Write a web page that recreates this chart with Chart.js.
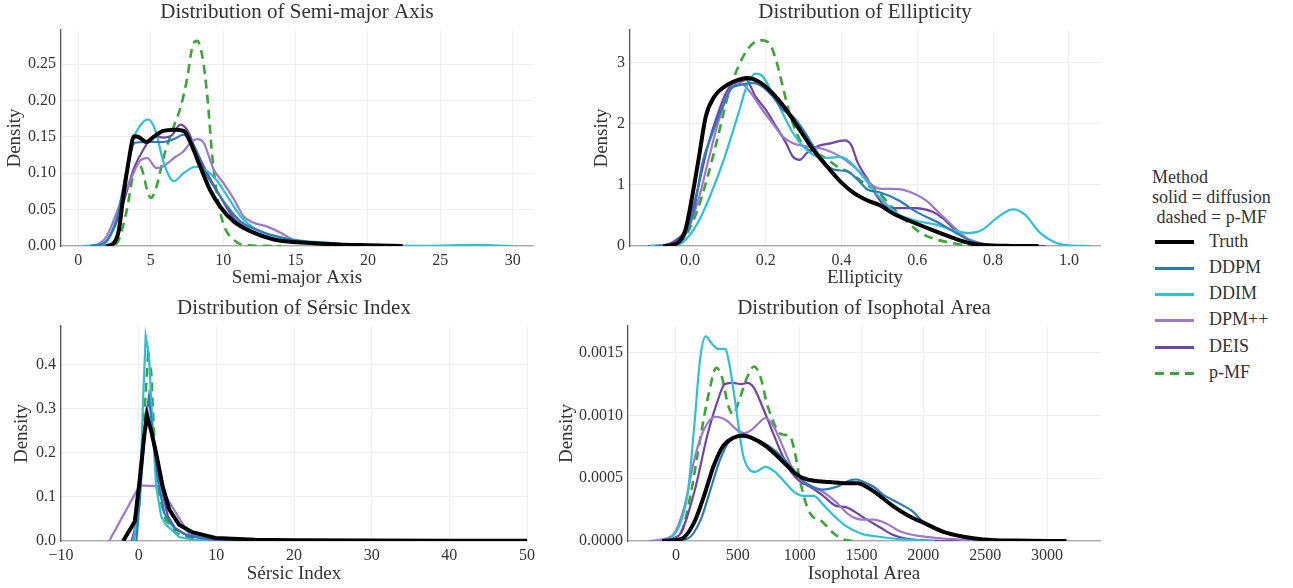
<!DOCTYPE html>
<html>
<head>
<meta charset="utf-8">
<script src="https://cdn.jsdelivr.net/npm/chart.js@4.4.1/dist/chart.umd.min.js"></script>
<style>
  body { margin: 0; background: #fff; width: 1293px; height: 588px; position: relative; overflow: hidden;
         font-family: 'Liberation Serif', 'DejaVu Serif', serif; color: #333; }
  canvas { position: absolute; }
  .leg { position: absolute; font-family: 'Liberation Serif', 'DejaVu Serif', serif; font-size: 18px;
         line-height: 20px; white-space: pre; color: #333; }
  .sw { position: absolute; width: 39px; }
</style>
</head>
<body>
<canvas id="semi"></canvas>
<canvas id="ellip"></canvas>
<canvas id="sersic"></canvas>
<canvas id="area"></canvas>
<div id="legend"></div>
<script>
const methods = ["Truth", "DDPM", "DDIM", "DPM++", "DEIS", "p-MF"];
const colors = ["#000000", "#2b7bba", "#2ec0d6", "#9d78cc", "#6f45a6", "#3aa63a"];
const widths = [4, 2.2, 2.2, 2.2, 2.2, 2.6];
const dashes = [[], [], [], [], [], [9, 6]];

// Semi-major axis densities, [x, density]
const semiTruth = [[1.9,0],[2.4,0.003],[2.8,0.022],[3.1,0.068],[3.45,0.114],[3.85,0.151],[4.15,0.150],[4.7,0.143],[5.2,0.150],[5.8,0.158],[6.7,0.160],[7.3,0.158],[7.75,0.142],[8.4,0.110],[9.1,0.077],[9.8,0.054],[10.7,0.034],[11.9,0.020],[13.5,0.009],[16,0.004],[18,0.002],[20,0.001],[22.4,0]];
const semiDDPM = [[0.8,0],[1.5,0.002],[2.0,0.008],[2.7,0.04],[3.3,0.1],[3.9,0.142],[4.7,0.143],[5.9,0.143],[6.6,0.147],[7.25,0.153],[8.0,0.137],[8.65,0.105],[9.35,0.082],[10.3,0.054],[11.2,0.034],[12.6,0.020],[14.9,0.008],[17,0.003],[20,0.001],[22,0]];
const semiDDIM = [[0.3,0],[1.2,0.001],[1.95,0.006],[2.65,0.04],[3.35,0.105],[3.8,0.147],[4.25,0.165],[4.8,0.174],[5.3,0.160],[5.9,0.114],[6.6,0.089],[7.25,0.100],[8.1,0.109],[8.9,0.103],[9.6,0.089],[10.3,0.068],[11.2,0.041],[12.35,0.022],[13.7,0.013],[16,0.006],[17,0.005],[18.5,0.002],[21,0.0005],[24,0.0003],[27.5,0.0015],[30,0]];
const semiDPMpp = [[0.8,0],[1.5,0.004],[1.95,0.013],[2.9,0.059],[3.6,0.091],[4.25,0.117],[4.75,0.121],[5.4,0.107],[5.9,0.110],[6.6,0.121],[7.25,0.130],[7.75,0.142],[8.2,0.147],[8.65,0.142],[9.35,0.105],[10.0,0.087],[10.75,0.064],[11.4,0.041],[12.1,0.032],[13.0,0.027],[14.0,0.018],[14.9,0.008],[17,0.004],[20,0]];
const semiDEIS = [[1.0,0],[1.8,0.004],[2.4,0.022],[3.1,0.059],[3.8,0.105],[4.5,0.133],[5.2,0.151],[5.9,0.149],[6.45,0.152],[7.05,0.167],[7.5,0.160],[8.1,0.133],[8.9,0.100],[9.8,0.068],[10.75,0.038],[11.9,0.022],[13.7,0.009],[16,0.004],[20,0]];
const semiPMF = [[1.5,0],[2.2,0.001],[2.65,0.004],[3.35,0.050],[3.8,0.100],[4.08,0.114],[4.4,0.105],[4.75,0.077],[5.0,0.066],[5.4,0.082],[5.9,0.123],[6.6,0.165],[7.05,0.190],[7.5,0.229],[7.9,0.276],[8.2,0.282],[8.55,0.262],[8.9,0.207],[9.25,0.123],[9.6,0.068],[10.0,0.031],[10.75,0.008],[11.7,0.001],[14,0]];

// Ellipticity densities
const ellipTruth = [[-0.07,0],[-0.035,0.04],[-0.012,0.26],[0.006,0.81],[0.024,1.46],[0.042,2.12],[0.065,2.45],[0.092,2.61],[0.128,2.72],[0.15,2.75],[0.182,2.69],[0.218,2.5],[0.254,2.23],[0.29,1.9],[0.326,1.57],[0.362,1.3],[0.398,1.05],[0.434,0.86],[0.47,0.74],[0.5,0.67],[0.54,0.52],[0.6,0.36],[0.64,0.26],[0.7,0.12],[0.74,0.045],[0.78,0.012],[0.85,0.002],[0.92,0]];
const ellipDDPM = [[-0.09,0],[-0.05,0.02],[-0.025,0.07],[0.011,0.59],[0.033,1.36],[0.056,1.79],[0.083,2.23],[0.11,2.58],[0.137,2.64],[0.164,2.67],[0.191,2.61],[0.218,2.45],[0.245,2.23],[0.272,2.12],[0.299,1.9],[0.326,1.63],[0.353,1.38],[0.38,1.25],[0.416,1.22],[0.443,1.08],[0.47,0.92],[0.5,0.88],[0.55,0.75],[0.6,0.55],[0.65,0.4],[0.7,0.22],[0.75,0.06],[0.8,0.01],[0.85,0]];
const ellipDDIM = [[-0.106,0],[-0.06,0.01],[-0.025,0.04],[0.02,0.37],[0.056,0.86],[0.092,1.46],[0.128,2.17],[0.15,2.61],[0.173,2.82],[0.191,2.78],[0.218,2.5],[0.245,2.17],[0.272,1.85],[0.299,1.63],[0.326,1.49],[0.362,1.44],[0.398,1.46],[0.425,1.36],[0.461,1.1],[0.5,0.8],[0.55,0.52],[0.6,0.41],[0.65,0.35],[0.7,0.25],[0.735,0.21],[0.77,0.26],[0.81,0.46],[0.852,0.6],[0.885,0.51],[0.92,0.24],[0.965,0.055],[1.0,0.011],[1.055,0]];
const ellipDPMpp = [[-0.1,0],[-0.04,0.04],[-0.007,0.26],[0.02,0.7],[0.047,1.36],[0.074,2.01],[0.1,2.48],[0.123,2.67],[0.141,2.64],[0.164,2.48],[0.191,2.23],[0.218,2.01],[0.245,1.79],[0.272,1.68],[0.308,1.63],[0.344,1.6],[0.38,1.52],[0.416,1.38],[0.452,1.19],[0.48,1.0],[0.5,0.94],[0.55,0.93],[0.586,0.87],[0.622,0.75],[0.658,0.54],[0.695,0.32],[0.73,0.126],[0.767,0.044],[0.82,0.01],[0.88,0]];
const ellipDEIS = [[-0.11,0],[-0.07,0.01],[-0.043,0.07],[-0.007,0.32],[0.02,0.92],[0.047,1.63],[0.074,2.17],[0.1,2.56],[0.128,2.67],[0.148,2.72],[0.173,2.45],[0.2,2.23],[0.227,1.96],[0.254,1.68],[0.272,1.46],[0.29,1.41],[0.308,1.52],[0.335,1.63],[0.371,1.68],[0.407,1.73],[0.425,1.66],[0.443,1.36],[0.47,1.08],[0.49,0.85],[0.514,0.66],[0.55,0.62],[0.595,0.62],[0.64,0.56],[0.668,0.45],[0.695,0.29],[0.73,0.126],[0.767,0.044],[0.82,0.01],[0.94,0]];
const ellipPMF = [[-0.07,0],[-0.034,0.016],[-0.007,0.21],[0.02,0.59],[0.047,1.14],[0.074,1.79],[0.1,2.45],[0.128,2.94],[0.155,3.24],[0.186,3.37],[0.209,3.32],[0.227,3.05],[0.245,2.61],[0.263,2.17],[0.29,1.74],[0.317,1.55],[0.353,1.46],[0.389,1.3],[0.425,1.19],[0.461,1.02],[0.496,0.89],[0.532,0.64],[0.568,0.43],[0.604,0.235],[0.64,0.126],[0.686,0.055],[0.73,0.011],[0.76,0]];

// Sérsic index densities (coarse grid, straight segments)
const sersicTruth = [[-2,0],[-0.5,0.044],[0.13,0.138],[0.7,0.236],[1.05,0.285],[1.6,0.251],[2.26,0.198],[3.1,0.123],[3.96,0.071],[5.2,0.037],[6.9,0.02],[9.9,0.007],[15,0.003],[20,0.0015],[30,0.001],[40,0.0005],[50,0.0003]];
const sersicDDPM = [[-0.3,0],[0.2,0.108],[0.9,0.274],[1.32,0.328],[1.83,0.244],[2.47,0.138],[3.3,0.063],[4.4,0.033],[6.1,0.014],[9,0.004],[12,0.001],[15,0]];
const sersicDDIM = [[-0.7,0],[0.13,0.086],[0.55,0.311],[0.9,0.465],[1.32,0.424],[1.74,0.274],[2.26,0.123],[2.9,0.056],[3.5,0.037],[4.2,0.026],[5.2,0.009],[6.9,0.003],[9,0]];
const sersicDPMpp = [[-3.8,0],[0.13,0.126],[2.7,0.124],[6.5,0.015],[9,0.004],[12,0.001],[15,0]];
const sersicDEIS = [[-0.9,0],[-0.2,0.048],[0.2,0.146],[0.9,0.274],[1.19,0.289],[1.83,0.229],[2.7,0.138],[3.75,0.056],[4.8,0.026],[6.5,0.011],[9,0.004],[13,0.001],[16,0]];
const sersicPMF = [[-0.7,0],[-0.1,0.048],[0.55,0.236],[1.19,0.417],[1.6,0.386],[2.0,0.236],[2.7,0.1],[3.5,0.048],[4.8,0.018],[6.5,0.007],[10,0.001],[12,0]];

// Isophotal area densities
const areaTruth = [[-112,0],[44,0.000016],[148,0.00015],[227,0.00036],[305,0.0006],[383,0.00076],[461,0.00082],[539,0.00084],[617,0.00082],[721,0.00076],[826,0.00067],[930,0.00057],[1008,0.00051],[1112,0.00048],[1242,0.00047],[1372,0.00046],[1470,0.00046],[1544,0.00043],[1648,0.00036],[1752,0.00028],[1882,0.0002],[2013,0.00014],[2169,0.00007],[2325,0.000034],[2482,0.000013],[2742,0.000003],[3157,0]];
const areaDDPM = [[-60,0],[96,0.00002],[200,0.00017],[279,0.00041],[357,0.00065],[435,0.0008],[513,0.00083],[617,0.00082],[747,0.00076],[878,0.00065],[982,0.00052],[1086,0.00044],[1190,0.00041],[1294,0.00043],[1398,0.00048],[1460,0.00049],[1540,0.00046],[1600,0.00043],[1674,0.00037],[1804,0.0003],[1908,0.00024],[2013,0.00014],[2169,0.00007],[2325,0.000034],[2482,0.000013],[2742,0.000003],[3000,0]];
const areaDDIM = [[-112,0],[-40,0.00003],[18,0.0001],[96,0.00039],[148,0.00092],[195,0.00145],[240,0.00163],[292,0.00157],[344,0.00153],[396,0.00153],[435,0.00139],[487,0.00105],[539,0.0007],[591,0.00057],[643,0.00055],[721,0.00059],[800,0.00055],[878,0.00047],[956,0.00039],[1034,0.00036],[1112,0.00036],[1190,0.00029],[1268,0.00021],[1372,0.00012],[1503,0.000056],[1596,0.00004],[1830,0.000013],[2091,0]];
const areaDPMpp = [[-216,0],[-34,0.00004],[70,0.00028],[148,0.00065],[227,0.00089],[318,0.00099],[409,0.00096],[487,0.00089],[552,0.00086],[617,0.00089],[669,0.00094],[721,0.00098],[786,0.00092],[852,0.00078],[930,0.0006],[1008,0.00049],[1086,0.00044],[1190,0.00039],[1294,0.00031],[1398,0.00021],[1503,0.00017],[1596,0.00017],[1700,0.00014],[1804,0.00008],[1935,0.000045],[2091,0.000026],[2273,0.000013],[2430,0.000003],[2550,0]];
const areaDEIS = [[-164,0],[18,0.00004],[148,0.00039],[253,0.00084],[331,0.0011],[396,0.00125],[461,0.00126],[526,0.00125],[578,0.00126],[630,0.00122],[695,0.00108],[773,0.00089],[852,0.0007],[930,0.00055],[1008,0.00047],[1086,0.00043],[1190,0.00036],[1294,0.00028],[1372,0.00027],[1450,0.00023],[1544,0.00017],[1648,0.00011],[1752,0.00005],[1856,0.00002],[2013,0.000005],[2300,0]];
const areaPMF = [[-60,0],[44,0.00007],[122,0.00039],[200,0.00084],[266,0.00118],[326,0.00138],[370,0.00131],[422,0.00108],[461,0.00101],[513,0.00113],[578,0.00131],[630,0.00139],[682,0.00131],[734,0.0011],[800,0.00092],[852,0.00085],[917,0.00084],[956,0.00073],[995,0.00052],[1047,0.00031],[1099,0.0002],[1164,0.00017],[1216,0.00012],[1281,0.000056],[1346,0.000016],[1424,0]];

// tick positions
const semiXTicks = [0, 5, 10, 15, 20, 25, 30];
const semiYTicks = [0, 0.05, 0.10, 0.15, 0.20, 0.25];
const ellipXTicks = [0, 0.2, 0.4, 0.6, 0.8, 1.0];
const ellipYTicks = [0, 1, 2, 3];
const sersicXTicks = [-10, 0, 10, 20, 30, 40, 50];
const sersicYTicks = [0, 0.1, 0.2, 0.3, 0.4];
const areaXTicks = [0, 500, 1000, 1500, 2000, 2500, 3000];
const areaYTicks = [0, 0.0005, 0.0010, 0.0015];

const TXT = "#333333";
Chart.defaults.font.family = "'Liberation Serif', 'DejaVu Serif', serif";

const fmt = (digits) => (v) => v.toFixed(digits).replace("-", "\u2212");

function makePanel(p) {
  const cv = document.getElementById(p.id);
  cv.width = p.w;
  cv.height = p.h;
  cv.style.left = p.left + "px";
  cv.style.top = p.top + "px";

  const datasets = methods.map((m, i) => ({
    label: m,
    data: p.series[i].map(([x, y]) => ({ x, y })),
    borderColor: colors[i],
    borderWidth: widths[i],
    borderDash: dashes[i],
    pointRadius: 0,
    fill: false,
    tension: p.smooth ? 0.4 : 0,
    cubicInterpolationMode: p.smooth ? "monotone" : "default"
  }));

  new Chart(cv, {
    type: "line",
    data: { datasets },
    options: {
      responsive: false,
      animation: false,
      events: [],
      layout: { padding: { left: 0, right: p.left + p.w - p.plotR, top: 0, bottom: 0 } },
      plugins: {
        legend: { display: false },
        tooltip: { enabled: false },
        title: {
          display: true, text: p.title, fullSize: false, color: TXT,
          font: { size: 21, weight: "normal" },
          padding: { top: 0, bottom: p.plotT - p.top - 25.2 }
        }
      },
      scales: {
        x: {
          type: "linear", min: p.xMin, max: p.xMax,
          afterBuildTicks: (s) => { s.ticks = p.xTicks.map((v) => ({ value: v })); },
          afterFit: (s) => { s.height = p.top + p.h - p.plotB; },
          ticks: { callback: fmt(p.xDigits), color: TXT, font: { size: 16 }, padding: 5, maxRotation: 0, autoSkip: false },
          grid: { color: "#eeeeee", drawTicks: false },
          border: { color: "#a8a8a8", width: 1.3 },
          title: { display: true, text: p.xTitle, color: TXT, font: { size: 19 }, padding: { top: 0, bottom: 1 } }
        },
        y: {
          type: "linear", min: p.yMin, max: p.yMax,
          afterBuildTicks: (s) => { s.ticks = p.yTicks.map((v) => ({ value: v })); },
          afterFit: (s) => { s.width = p.plotL - p.left; },
          ticks: { callback: fmt(p.yDigits), color: TXT, font: { size: 16 }, padding: 5, autoSkip: false },
          grid: { color: "#eeeeee", drawTicks: false },
          border: { color: "#555555", width: 1.3 },
          title: { display: true, text: "Density", color: TXT, font: { size: 19 }, padding: { top: 4, bottom: 0 } }
        }
      }
    }
  });
}

makePanel({
  id: "semi", left: 0, top: 0, w: 545, h: 290, plotL: 61, plotR: 533, plotT: 30, plotB: 246,
  title: "Distribution of Semi-major Axis", xTitle: "Semi-major Axis",
  xMin: -1.2, xMax: 31.4, yMin: 0, yMax: 0.297, xTicks: semiXTicks, yTicks: semiYTicks, xDigits: 0, yDigits: 2,
  series: [semiTruth, semiDDPM, semiDDIM, semiDPMpp, semiDEIS, semiPMF], smooth: true
});
makePanel({
  id: "ellip", left: 587, top: 0, w: 525, h: 290, plotL: 630, plotR: 1100, plotT: 30, plotB: 246,
  title: "Distribution of Ellipticity", xTitle: "Ellipticity",
  xMin: -0.158, xMax: 1.082, yMin: 0, yMax: 3.535, xTicks: ellipXTicks, yTicks: ellipYTicks, xDigits: 1, yDigits: 0,
  series: [ellipTruth, ellipDDPM, ellipDDIM, ellipDPMpp, ellipDEIS, ellipPMF], smooth: true
});
makePanel({
  id: "sersic", left: 7, top: 296, w: 535, h: 290, plotL: 61, plotR: 527, plotT: 326, plotB: 541,
  title: "Distribution of S\u00e9rsic Index", xTitle: "S\u00e9rsic Index",
  xMin: -10, xMax: 50, yMin: 0, yMax: 0.488, xTicks: sersicXTicks, yTicks: sersicYTicks, xDigits: 0, yDigits: 1,
  series: [sersicTruth, sersicDDPM, sersicDDIM, sersicDPMpp, sersicDEIS, sersicPMF], smooth: false
});
makePanel({
  id: "area", left: 552, top: 296, w: 560, h: 290, plotL: 628, plotR: 1100, plotT: 326, plotB: 541,
  title: "Distribution of Isophotal Area", xTitle: "Isophotal Area",
  xMin: -388, xMax: 3428, yMin: 0, yMax: 0.001713, xTicks: areaXTicks, yTicks: areaYTicks, xDigits: 0, yDigits: 4,
  series: [areaTruth, areaDDPM, areaDDIM, areaDPMpp, areaDEIS, areaPMF], smooth: true
});

// legend block on the right
const legend = document.getElementById("legend");
function addText(text, left, top) {
  const d = document.createElement("div");
  d.className = "leg";
  d.textContent = text;
  d.style.left = left + "px";
  d.style.top = top + "px";
  legend.appendChild(d);
}
addText("Method", 1152, 167);
addText("solid = diffusion", 1152, 187);
addText(" dashed = p-MF", 1152, 207);
const legendRows = [242, 268, 294, 320, 347, 373];
methods.forEach((m, i) => {
  const sw = document.createElement("div");
  sw.className = "sw";
  const hgt = widths[i] > 3 ? 4 : 3;
  sw.style.left = "1155px";
  sw.style.top = (legendRows[i] - hgt / 2) + "px";
  sw.style.height = hgt + "px";
  sw.style.background = dashes[i].length
    ? `repeating-linear-gradient(90deg, ${colors[i]} 0 9px, transparent 9px 15px)`
    : colors[i];
  legend.appendChild(sw);
  addText(m, 1209, legendRows[i] - 11);
});
</script>
</body>
</html>
